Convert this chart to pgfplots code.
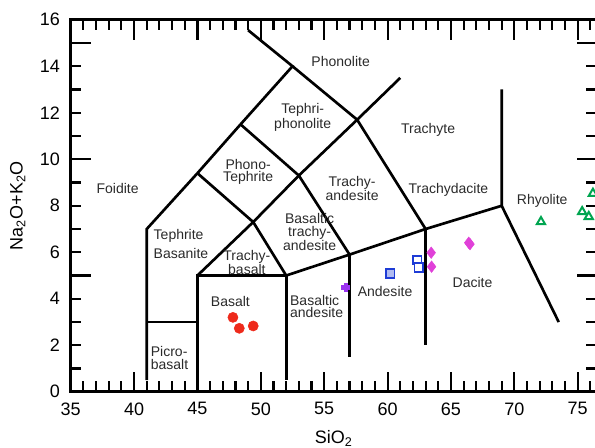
\documentclass[border=0pt]{standalone}
\usepackage{fontspec}
\setmainfont{Liberation Sans}
\usepackage{pgfplots}
\pgfplotsset{compat=1.18}
\definecolor{redpt}{HTML}{EE2A1B}
\definecolor{purplept}{HTML}{9A33F0}
\definecolor{bluept}{HTML}{1E3CD6}
\definecolor{magpt}{HTML}{E040D8}
\definecolor{greenpt}{HTML}{00A550}
\definecolor{lbl}{HTML}{2A2A2A}
\tikzset{lab/.style={font=\fontsize{10.5}{9.5}\selectfont, text=lbl, align=center, inner sep=0pt},
  tk/.style={line width=1.6pt, black}}
\begin{document}
\begin{tikzpicture}
\begin{axis}[
  at={(0,0)}, anchor=south west,
  scale only axis, width=394.5pt, height=279pt,
  xmin=35, xmax=76.5, ymin=0, ymax=16,
  axis line style={line width=2pt},
  major tick length=0pt, minor tick length=0pt,
  xtick={35,40,...,75},
  ytick={0,2,...,16},
  /pgf/number format/assume math mode=true,
  ticklabel style={font=\fontsize{13.5}{16}\selectfont},
  xticklabel style={yshift=-4.5pt},
  yticklabel style={xshift=-4.5pt},
  label style={font=\fontsize{13.5}{16}\selectfont},
  xlabel={SiO\textsubscript{2}},
  ylabel={Na\textsubscript{2}O+K\textsubscript{2}O},
  xlabel style={yshift=-4.5pt},
  ylabel style={yshift=4pt},
  clip=false,
  tas/.style={black, line width=2pt, no marks, line join=miter},
]
% tick marks (inside, on all four sides)
\pgfplotsinvokeforeach{35,...,76}{
  \draw[tk] (axis cs:#1,0) -- ++(0pt,8pt);
  \draw[tk] (axis cs:#1,16) -- ++(0pt,-8pt);
}
\pgfplotsinvokeforeach{35,40,...,75}{
  \draw[tk] (axis cs:#1,0) -- ++(0pt,15pt);
  \draw[tk] (axis cs:#1,16) -- ++(0pt,-15pt);
}
\pgfplotsinvokeforeach{1,...,15}{
  \draw[tk] (axis cs:35,#1) -- ++(8pt,0pt);
  \draw[tk] (axis cs:76.5,#1) -- ++(-8pt,0pt);
}
\pgfplotsinvokeforeach{5,10,15}{
  \draw[tk] (axis cs:35,#1) -- ++(15pt,0pt);
  \draw[tk] (axis cs:76.5,#1) -- ++(-15pt,0pt);
}
% TAS field boundaries
\addplot[tas] coordinates {(41,0.5) (41,7) (45,9.4) (48.4,11.5) (52.5,14) (49,15.55)};
\addplot[tas] coordinates {(41,3) (45,3)};
\addplot[tas] coordinates {(45,0.5) (45,5) (52,5) (52,0.5)};
\addplot[tas] coordinates {(45,5) (49.4,7.3) (53,9.3) (57.6,11.7) (61,13.5)};
\addplot[tas] coordinates {(45,9.4) (49.4,7.3) (52,5)};
\addplot[tas] coordinates {(48.4,11.5) (53,9.3) (57,5.9)};
\addplot[tas] coordinates {(52.5,14) (57.6,11.7) (63,7)};
\addplot[tas] coordinates {(52,5) (57,5.9) (63,7) (69,8)};
\addplot[tas] coordinates {(57,5.9) (57,1.5)};
\addplot[tas] coordinates {(63,7) (63,2)};
\addplot[tas] coordinates {(69,13) (69,8) (73.5,3)};
% samples
\addplot[only marks, mark=*, mark size=3.8pt, color=redpt] coordinates {(47.8,3.2) (48.3,2.73) (49.4,2.83)};
\addplot[only marks, mark=+, mark size=3.4pt, line width=3.2pt, color=purplept] coordinates {(56.7,4.49)};
\addplot[only marks, mark=square*, mark size=3.2pt, color=bluept, line width=1.3pt, mark options={fill=bluept!35}] coordinates {(60.2,5.09)};
\addplot[only marks, mark=square*, mark size=3.2pt, color=bluept, line width=1.3pt, mark options={fill=white}] coordinates {(62.34,5.66) (62.47,5.35)};
\addplot[only marks, mark=diamond*, mark size=4.3pt, color=magpt] coordinates {(63.44,5.98) (63.47,5.38) (66.4,6.41) (66.5,6.35)};
\addplot[only marks, mark=triangle, mark size=3.6pt, line width=1.5pt, color=greenpt] coordinates {(72.1,7.31) (76.2,8.53) (75.35,7.74) (75.87,7.53)};
% field names
\node[lab] at (axis cs:38.7,8.74) {Foidite};
\node[lab] at (axis cs:56.3,14.2) {Phonolite};
\node[lab] at (axis cs:53.3,11.8) {Tephri-\\phonolite};
\node[lab] at (axis cs:49.0,9.45) {Phono-\\Tephrite};
\node[lab] at (axis cs:63.2,11.25) {Trachyte};
\node[lab] at (axis cs:57.2,8.75) {Trachy-\\andesite};
\node[lab] at (axis cs:64.8,8.67) {Trachydacite};
\node[lab] at (axis cs:72.2,8.2) {Rhyolite};
\node[lab] at (axis cs:53.85,6.87) {Basaltic\\trachy-\\andesite};
\node[lab, align=left] at (axis cs:43.7,6.35) {Tephrite\\[3pt]Basanite};
\node[lab] at (axis cs:48.9,5.57) {Trachy-\\basalt};
\node[lab] at (axis cs:47.6,3.9) {Basalt};
\node[lab, align=left] at (axis cs:42.8,1.45) {Picro-\\basalt};
\node[lab, align=left] at (axis cs:54.4,3.67) {Basaltic\\andesite};
\node[lab] at (axis cs:59.8,4.3) {Andesite};
\node[lab] at (axis cs:66.7,4.7) {Dacite};
\end{axis}
\pgfresetboundingbox
\useasboundingbox (-53pt,-41.5pt) rectangle (393.2pt,293.8pt);
\end{tikzpicture}
\end{document}
